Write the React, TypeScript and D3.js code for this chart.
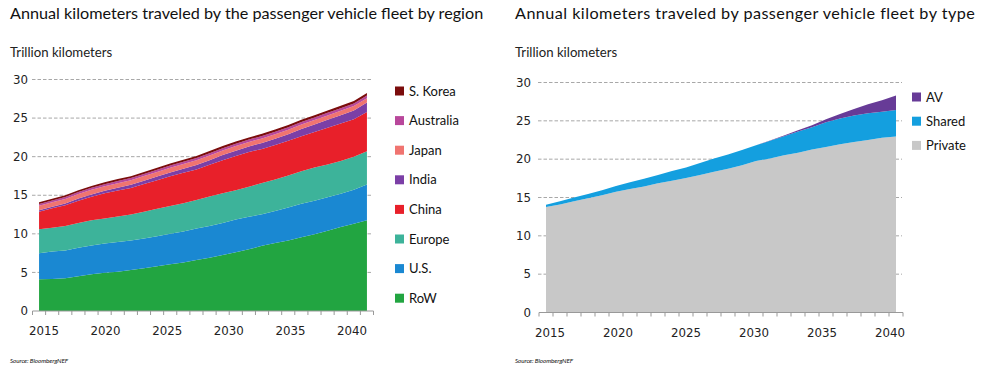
import React from "react";
import * as d3 from "d3";

const years = d3.range(2015, 2041);
const yTicks = [0, 5, 10, 15, 20, 25, 30];
const yearLabels = [2015, 2020, 2025, 2030, 2035, 2040];

// Left chart: by region (trillion km)
const regionKeys = ["RoW", "U.S.", "Europe", "China", "India", "Japan", "Australia", "S. Korea"];
const rowVals = [4.1, 4.15, 4.25, 4.5, 4.75, 4.95, 5.1, 5.3, 5.55, 5.8, 6.05, 6.3, 6.6, 6.9, 7.25, 7.6, 8.0, 8.45, 8.8, 9.15, 9.55, 9.95, 10.4, 10.9, 11.3, 11.75];
const usVals = [3.4, 3.55, 3.6, 3.7, 3.75, 3.8, 3.85, 3.85, 3.85, 3.9, 3.95, 4.0, 4.1, 4.1, 4.15, 4.25, 4.2, 4.1, 4.15, 4.25, 4.35, 4.35, 4.35, 4.3, 4.4, 4.65];
const europeVals = [3.1, 3.1, 3.15, 3.2, 3.25, 3.25, 3.3, 3.35, 3.45, 3.55, 3.6, 3.65, 3.7, 3.85, 3.85, 3.8, 3.9, 4.05, 4.1, 4.15, 4.2, 4.3, 4.25, 4.25, 4.3, 4.3];
const chinaVals = [2.25, 2.5, 2.7, 2.9, 3.05, 3.25, 3.35, 3.45, 3.6, 3.7, 3.85, 3.95, 3.95, 4.1, 4.3, 4.45, 4.5, 4.4, 4.45, 4.5, 4.55, 4.6, 4.75, 4.85, 4.85, 5.1];
const indiaVals = [0.2, 0.21, 0.24, 0.27, 0.3, 0.33, 0.37, 0.4, 0.43, 0.47, 0.5, 0.54, 0.57, 0.6, 0.65, 0.68, 0.72, 0.78, 0.82, 0.87, 0.93, 0.97, 1.03, 1.08, 1.13, 1.22];
const japanVals = [0.58, 0.58, 0.59, 0.59, 0.6, 0.6, 0.6, 0.6, 0.6, 0.6, 0.6, 0.6, 0.6, 0.6, 0.6, 0.6, 0.59, 0.59, 0.59, 0.58, 0.58, 0.58, 0.57, 0.57, 0.57, 0.56];
const australiaVals = [0.24, 0.24, 0.25, 0.25, 0.26, 0.26, 0.27, 0.27, 0.28, 0.28, 0.29, 0.29, 0.3, 0.3, 0.3, 0.31, 0.31, 0.31, 0.32, 0.32, 0.32, 0.33, 0.33, 0.34, 0.34, 0.35];
const koreaVals = [0.22, 0.22, 0.23, 0.23, 0.24, 0.24, 0.25, 0.25, 0.25, 0.26, 0.26, 0.27, 0.27, 0.27, 0.28, 0.28, 0.28, 0.29, 0.29, 0.29, 0.3, 0.3, 0.3, 0.31, 0.31, 0.32];
const regionColors = ["#22a541", "#1a88d2", "#3db39a", "#e8202a", "#7b3fa6", "#f07470", "#b8479b", "#7b0c0c"];

// Right chart: by type
const typeKeys = ["Private", "Shared", "AV"];
const privateVals = [13.75, 14.1, 14.5, 14.9, 15.3, 15.75, 16.1, 16.45, 16.85, 17.2, 17.55, 17.95, 18.35, 18.75, 19.2, 19.75, 20.1, 20.5, 20.85, 21.25, 21.6, 21.95, 22.25, 22.5, 22.8, 22.95];
const sharedVals = [0.3, 0.4, 0.5, 0.55, 0.65, 0.75, 0.9, 1.0, 1.1, 1.25, 1.35, 1.55, 1.75, 1.85, 2.0, 2.05, 2.3, 2.5, 2.75, 2.9, 3.2, 3.35, 3.45, 3.5, 3.4, 3.45];
const avVals = [0, 0, 0, 0, 0, 0, 0, 0, 0, 0, 0, 0, 0, 0, 0, 0.02, 0.05, 0.1, 0.18, 0.28, 0.4, 0.6, 0.85, 1.15, 1.5, 1.9];
const typeColors = ["#c8c8c8", "#149fdf", "#673b97"];

const FONT = "Lato, 'Open Sans', sans-serif";
const NUMFONT = "'DejaVu Sans', sans-serif";

type PanelProps = {
  title: string;
  titleSpacing: number;
  keys: string[];
  series: number[][];
  colors: string[];
  x0: number;
  axisRange: [number, number];
  labelRange: [number, number];
  yRange: [number, number];
  gridRange: [number, number];
  yLabelX: number;
  legendX: number;
  legendY0: number;
  legendStep: number;
};

function Panel(p: PanelProps) {
  const rows = years.map((yr, i) => {
    const o: any = { year: yr };
    p.keys.forEach((k, j) => (o[k] = p.series[j][i]));
    return o;
  });
  const stacked = d3.stack<any>().keys(p.keys)(rows);
  const band = d3.scaleBand<number>().domain(years).range(p.axisRange).paddingInner(0).paddingOuter(0);
  const xc = (yr: number) => (band(yr) as number) + band.bandwidth() / 2;
  const xl = d3.scaleLinear().domain([2015, 2040]).range(p.labelRange);
  const y = d3.scaleLinear().domain([0, 30]).range(p.yRange);
  const area = d3
    .area<any>()
    .x((d) => xc(d.data.year))
    .y0((d) => y(d[0]))
    .y1((d) => y(d[1]));
  const tickXs = [...years.map((yr) => band(yr) as number), p.axisRange[1]];
  const legendOrder = p.keys.map((k, i) => ({ k, c: p.colors[i] })).reverse();
  return (
    <g>
      <text x={p.x0} y={19} fontSize={16.2} letterSpacing={p.titleSpacing} fill="#111" fontFamily={FONT}>{p.title}</text>
      <text x={p.x0} y={57} fontSize={13.2} fill="#222" fontFamily={FONT}>Trillion kilometers</text>
      {yTicks.map((t) => (
        <g key={t}>
          {t > 0 && (
            <line x1={p.gridRange[0]} x2={p.gridRange[1]} y1={y(t)} y2={y(t)} stroke="#a8a8a8" strokeWidth={1} strokeDasharray="3.5,2" />
          )}
          <text x={p.yLabelX} y={y(t)} dy="0.36em" textAnchor="end" fontSize={11.8} fill="#222" fontFamily={NUMFONT}>{t}</text>
        </g>
      ))}
      {stacked.map((s, i) => (
        <path key={p.keys[i]} d={area(s) || ""} fill={p.colors[i]} />
      ))}
      <line x1={p.axisRange[0]} x2={p.axisRange[1]} y1={y(0)} y2={y(0)} stroke="#999" strokeWidth={1} />
      {tickXs.map((tx, i) => (
        <line key={i} x1={tx} x2={tx} y1={y(0)} y2={y(0) + 4} stroke="#999" strokeWidth={1} />
      ))}
      {yearLabels.map((yr) => (
        <text key={yr} x={xl(yr)} y={y(0) + 24} textAnchor="middle" fontSize={11.8} fill="#222" fontFamily={NUMFONT}>{yr}</text>
      ))}
      {legendOrder.map((l, i) => (
        <g key={l.k}>
          <rect x={p.legendX} y={p.legendY0 + i * p.legendStep - 4.5} width={9} height={9} fill={l.c} />
          <text x={p.legendX + 14} y={p.legendY0 + i * p.legendStep} dy="0.36em" fontSize={13} fill="#111" fontFamily={FONT}>{l.k}</text>
        </g>
      ))}
      <text x={p.x0} y={363} fontSize={6.3} fontStyle="italic" letterSpacing={-0.1} fill="#111" fontFamily={FONT}>Source: BloombergNEF</text>
    </g>
  );
}

export default function App() {
  return (
    <svg width={1000} height={375} style={{ position: "absolute", left: 0, top: 0, background: "#fff" }}>
      <rect width={1000} height={375} fill="#fff" />
      <Panel
        title="Annual kilometers traveled by the passenger vehicle fleet by region"
        titleSpacing={0}
        keys={regionKeys}
        series={[rowVals, usVals, europeVals, chinaVals, indiaVals, japanVals, australiaVals, koreaVals]}
        colors={regionColors}
        x0={10}
        axisRange={[32.5, 373.5]}
        labelRange={[44, 352]}
        yRange={[311, 79.5]}
        gridRange={[32, 372]}
        yLabelX={28}
        legendX={395}
        legendY0={91}
        legendStep={29.6}
      />
      <Panel
        title="Annual kilometers traveled by passenger vehicle fleet by type"
        titleSpacing={0.45}
        keys={typeKeys}
        series={[privateVals, sharedVals, avVals]}
        colors={typeColors}
        x0={515}
        axisRange={[539, 903]}
        labelRange={[550, 890]}
        yRange={[312.5, 82.5]}
        gridRange={[538, 902]}
        yLabelX={531}
        legendX={912}
        legendY0={97}
        legendStep={24.2}
      />
    </svg>
  );
}
